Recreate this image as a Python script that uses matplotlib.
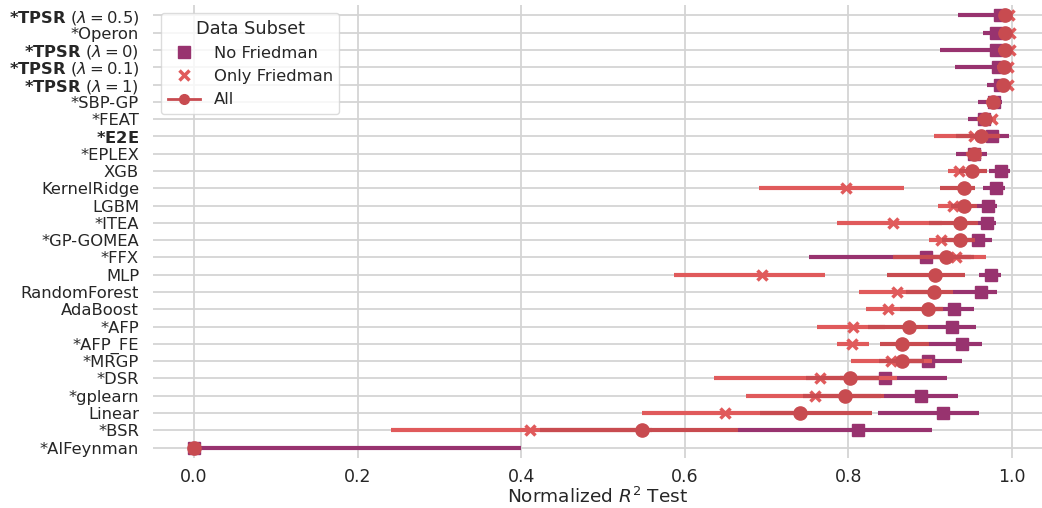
import matplotlib.pyplot as plt
from matplotlib.lines import Line2D

plt.rcParams["font.family"] = ["DejaVu Sans"]
plt.rcParams["font.size"] = 12
plt.rcParams["text.color"] = "#262626"
plt.rcParams["axes.labelcolor"] = "#262626"
plt.rcParams["xtick.color"] = "#262626"
plt.rcParams["ytick.color"] = "#262626"

methods = [
    r"$\mathbf{*TPSR}$ ($\lambda = 0.5$)", "*Operon",
    r"$\mathbf{*TPSR}$ ($\lambda = 0$)", r"$\mathbf{*TPSR}$ ($\lambda = 0.1$)",
    r"$\mathbf{*TPSR}$ ($\lambda = 1$)", "*SBP-GP", "*FEAT", r"$\mathbf{*E2E}$",
    "*EPLEX", "XGB", "KernelRidge", "LGBM", "*ITEA", "*GP-GOMEA", "*FFX", "MLP",
    "RandomForest", "AdaBoost", "*AFP", "*AFP_FE", "*MRGP", "*DSR", "*gplearn",
    "Linear", "*BSR", "*AIFeynman",
]

# No Friedman: mean and CI bounds
nof_mean = [0.985, 0.981, 0.981, 0.983, 0.985, 0.978, 0.966, 0.975, 0.954, 0.986,
            0.981, 0.971, 0.970, 0.958, 0.895, 0.974, 0.962, 0.929, 0.927, 0.939,
            0.897, 0.845, 0.889, 0.916, 0.812, 0.0]
nof_lo = [0.934, 0.965, 0.912, 0.930, 0.970, 0.958, 0.946, 0.955, 0.931, 0.972,
          0.965, 0.957, 0.959, 0.940, 0.752, 0.960, 0.928, 0.905, 0.897, 0.899,
          0.860, 0.790, 0.843, 0.836, 0.665, 0.0]
nof_hi = [0.998, 0.997, 0.997, 0.996, 0.997, 0.988, 0.977, 0.996, 0.969, 0.997,
          0.991, 0.982, 0.980, 0.975, 0.950, 0.986, 0.982, 0.954, 0.956, 0.963,
          0.939, 0.921, 0.934, 0.960, 0.902, 0.400]

# Only Friedman
fr_mean = [0.996, 0.998, 0.998, 0.995, 0.995, 0.977, 0.975, 0.953, 0.955, 0.935,
           0.797, 0.928, 0.855, 0.913, 0.932, 0.695, 0.860, 0.849, 0.806, 0.804,
           0.852, 0.765, 0.759, 0.649, 0.411, 0.0]
fr_lo = [0.990, 0.994, 0.994, 0.990, 0.990, 0.970, 0.968, 0.905, 0.945, 0.922,
         0.691, 0.909, 0.786, 0.898, 0.895, 0.587, 0.813, 0.821, 0.762, 0.786,
         0.803, 0.636, 0.675, 0.548, 0.241, 0.0]
fr_hi = [1.000, 1.000, 1.000, 0.999, 0.999, 0.984, 0.980, 0.985, 0.963, 0.950,
         0.868, 0.945, 0.915, 0.930, 0.968, 0.771, 0.900, 0.875, 0.845, 0.825,
         0.902, 0.860, 0.840, 0.750, 0.560, 0.0]

# All datasets
all_mean = [0.992, 0.992, 0.992, 0.990, 0.989, 0.977, 0.967, 0.962, 0.954, 0.951,
            0.941, 0.941, 0.937, 0.936, 0.919, 0.906, 0.905, 0.897, 0.874, 0.866,
            0.865, 0.802, 0.796, 0.741, 0.548, 0.0]
all_lo = [0.985, 0.984, 0.983, 0.982, 0.982, 0.968, 0.957, 0.932, 0.944, 0.935,
          0.912, 0.925, 0.898, 0.915, 0.855, 0.847, 0.871, 0.863, 0.824, 0.839,
          0.838, 0.748, 0.745, 0.692, 0.423, 0.0]
all_hi = [0.998, 0.998, 0.998, 0.997, 0.996, 0.985, 0.976, 0.985, 0.963, 0.970,
          0.955, 0.957, 0.959, 0.955, 0.953, 0.943, 0.928, 0.916, 0.897, 0.899,
          0.893, 0.837, 0.843, 0.829, 0.665, 0.0]

C_NOF = "#98336f"
C_FR = "#e05a5b"
C_ALL = "#c84b50"

fig = plt.figure(figsize=(10.42, 5.08), dpi=100)
ax = fig.add_axes([0.1468, 0.0984, 0.8532, 0.8918])

ys = list(range(len(methods)))

series = [
    (nof_mean, nof_lo, nof_hi, C_NOF, "s", dict(markersize=9)),
    (fr_mean, fr_lo, fr_hi, C_FR, "x", dict(markersize=7.5, markeredgewidth=2.5)),
    (all_mean, all_lo, all_hi, C_ALL, "o", dict(markersize=9.5)),
]
z = 3
for mean, lo, hi, color, marker, kw in series:
    ax.plot(mean, ys, linestyle="none", marker=marker, color=color, zorder=z, **kw)
    ax.hlines(ys, lo, hi, color=color, linewidth=3, zorder=z)
    z += 1

ax.set_xlim(-0.0501, 1.0367)
ax.set_ylim(25.6, -0.6)
ax.set_yticks(ys)
ax.set_yticklabels(methods, fontsize=11.8)
ax.set_xticks([0.0, 0.2, 0.4, 0.6, 0.8, 1.0])
ax.tick_params(axis="x", labelsize=12.5)
ax.set_xlabel(r"Normalized $R^2$ Test", fontsize=13.3, labelpad=1)
ax.grid(True, color="#d4d4d4", linewidth=1.3)
ax.set_axisbelow(True)
for s in ax.spines.values():
    s.set_visible(False)
ax.tick_params(axis="y", length=0, pad=10)
ax.tick_params(axis="x", length=0, pad=7)

handles = [
    Line2D([], [], linestyle="none", marker="s", color=C_NOF, markersize=9),
    Line2D([], [], linestyle="none", marker="x", color=C_FR, markersize=7.5, markeredgewidth=2.5),
    Line2D([], [], marker="o", color=C_ALL, linewidth=2, markersize=7),
]
ax.legend(handles, ["No Friedman", "Only Friedman", "All"], title="Data Subset",
          loc="upper left", title_fontsize=12.8, fontsize=11.8, frameon=True,
          edgecolor="#d4d4d4")

fig.savefig("out.png", dpi=100)
